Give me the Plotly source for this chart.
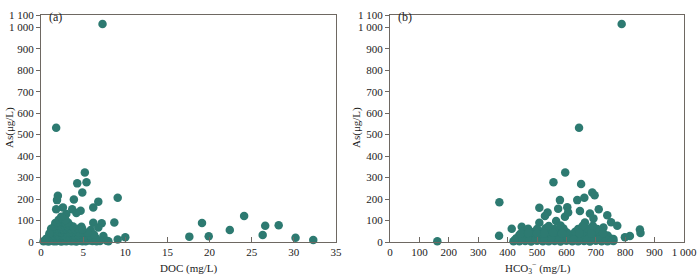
import plotly.graph_objects as go

# ---------------- Data ----------------
# Panel (a): DOC (mg/L) vs As (ug/L)
doc_a = [7.3, 1.8, 5.2, 5.4, 4.3, 4.9, 2.0, 1.9, 3.9, 9.1, 6.8, 6.2, 4.7, 4.2, 3.7, 2.6, 1.8,
         8.7, 7.2, 6.2, 6.8, 7.4, 10.0, 9.1, 7.0, 5.6, 5.9, 4.8, 3.0, 2.8,
         17.6, 19.1, 19.9, 22.4, 24.1, 26.6, 26.3, 28.2, 30.2, 32.3,
         0.3, 0.6, 0.9, 1.2, 1.5, 1.8, 2.1, 2.4, 2.7, 3.0, 3.3, 3.6, 3.9, 4.2, 4.5, 4.9, 5.3, 5.7, 6.1, 6.6,
         0.7, 1.0, 1.3, 1.6, 1.9, 2.2, 2.5, 2.8, 3.1, 3.4, 3.7, 4.0, 4.4, 4.8, 5.2, 6.0, 6.5,
         1.0, 1.3, 1.6, 1.9, 2.2, 2.5, 2.8, 3.1, 3.4, 3.7, 4.0, 4.4, 4.8, 5.3, 5.8, 6.3,
         1.3, 1.6, 1.9, 2.2, 2.5, 2.8, 3.1, 3.4, 3.7, 4.1, 4.5, 5.0, 5.5,
         1.5, 1.8, 2.1, 2.4, 2.7, 3.0, 3.3, 3.6, 4.0, 4.4, 4.9,
         1.6, 1.9, 2.2, 2.5, 2.8, 3.1, 3.4, 3.8,
         1.7, 2.0, 2.3, 2.6, 2.9, 3.2,
         2.1, 2.5, 2.9, 2.4, 1.2, 1.0, 0.6, 7.8, 8.0]
as_a = [1015, 532, 324, 278, 273, 231, 215, 195, 198, 206, 188, 161, 146, 135, 152, 161, 153,
        91, 87, 90, 68, 28, 22, 12, 5, 17, 56, 71, 130, 115,
        25, 88, 27, 56, 121, 76, 33, 78, 20, 9,
        3, 5, 2, 6, 4, 3, 7, 2, 5, 4, 6, 3, 5, 2, 6, 4, 3, 7, 5, 4,
        16, 20, 18, 22, 15, 19, 21, 17, 20, 18, 22, 16, 19, 21, 17, 20, 18,
        30, 34, 31, 35, 29, 33, 32, 36, 30, 34, 31, 33, 35, 30, 32, 34,
        45, 48, 44, 47, 46, 49, 43, 47, 45, 48, 44, 46, 43,
        58, 62, 60, 63, 59, 61, 64, 58, 60, 62, 59,
        74, 78, 76, 73, 77, 75, 79, 72,
        88, 92, 90, 93, 89, 91,
        104, 108, 102, 118, 62, 40, 14, 6, 3]

# Panel (b): HCO3- (mg/L) vs As (ug/L)
hco3_b = [788, 643, 596, 556, 650, 688, 696, 578, 637, 661, 372, 508, 603, 572, 646, 710, 739,
          680, 536, 527, 595, 606, 565, 508, 663, 752, 773, 692, 726, 850, 852, 816, 799, 760,
          371, 161, 414, 448, 465,
          420, 440, 460, 480, 500, 520, 540, 560, 580, 600, 620, 640, 660, 680, 700, 720, 740, 760,
          430, 455, 480, 505, 530, 555, 580, 605, 630, 655, 680, 705, 730, 750,
          440, 465, 490, 515, 540, 565, 590, 615, 640, 665, 690, 715, 740,
          455, 480, 510, 540, 570, 600, 630, 660, 690, 720,
          470, 500, 530, 560, 590, 640, 675, 705,
          540, 580, 655, 690,
          425, 450, 475, 495, 525, 550, 575, 610, 625, 650, 670, 695, 710, 735, 755,
          445, 470, 500, 525, 555, 585, 645, 685, 725]
as_b = [1015, 532, 324, 278, 270, 231, 218, 195, 195, 206, 185, 160, 162, 155, 144, 152, 125,
        133, 137, 121, 118, 137, 98, 90, 91, 92, 76, 110, 67, 58, 42, 28, 22, 14,
        29, 4, 62, 71, 56,
        4, 3, 5, 2, 6, 4, 3, 5, 2, 6, 4, 3, 5, 2, 6, 4, 3, 5,
        18, 20, 17, 19, 21, 18, 16, 20, 19, 17, 21, 18, 20, 16,
        33, 31, 35, 32, 34, 30, 33, 35, 31, 34, 32, 33, 30,
        48, 46, 50, 47, 49, 45, 48, 50, 46, 47,
        62, 60, 64, 61, 63, 60, 62, 61,
        75, 77, 74, 76,
        10, 12, 9, 11, 10, 13, 9, 11, 12, 10, 9, 12, 11, 10, 8,
        40, 42, 39, 41, 43, 40, 42, 39, 41]

y_ticks = [0, 100, 200, 300, 400, 500, 600, 700, 800, 900, 1000]
y_ticktext = ["0", "100", "200", "300", "400", "500", "600", "700", "800", "900", "1 000", "1 100"]
xa_ticks = [0, 5, 10, 15, 20, 25, 30, 35]
xb_ticks = [0, 100, 200, 300, 400, 500, 600, 700, 800, 900, 1000]
xb_ticktext = ["0", "100", "200", "300", "400", "500", "600", "700", "800", "900", "1 000"]

# ---------------- Styling ----------------
W, H = 700, 278
Y_TOP = 1057          # top of the y axis frame (labelled "1 100" in the original)
FONT = "Liberation Serif, Times New Roman, serif"
MARK = "#2d7a71"
LINE = "#6e6862"
TXT = "#222222"

def px_x(p):
    return p / W

def px_y(p):
    return 1 - p / H

fig = go.Figure()
fig.add_trace(go.Scatter(x=doc_a, y=as_a, mode="markers", xaxis="x", yaxis="y",
                         marker=dict(color=MARK, size=8.5, line=dict(width=0)),
                         cliponaxis=False, showlegend=False))
fig.add_trace(go.Scatter(x=hco3_b, y=as_b, mode="markers", xaxis="x2", yaxis="y2",
                         marker=dict(color=MARK, size=8.5, line=dict(width=0)),
                         cliponaxis=False, showlegend=False))

common_x = dict(showline=True, linecolor=LINE, linewidth=1, mirror=True, ticks="inside",
                ticklen=5, tickcolor=LINE, showgrid=False, zeroline=False, automargin=False,
                tickfont=dict(family=FONT, size=11, color=TXT))
common_y = dict(showline=True, linecolor=LINE, linewidth=1, mirror=True, ticks="outside",
                ticklen=4, tickcolor=LINE, showgrid=False, zeroline=False, automargin=False,
                tickfont=dict(family=FONT, size=11, color=TXT),
                tickvals=y_ticks + [Y_TOP], ticktext=y_ticktext, range=[0, Y_TOP])

yd = [px_y(242), px_y(15)]
fig.update_layout(
    template="none",
    width=W, height=H, autosize=False,
    margin=dict(l=0, r=0, t=0, b=0, pad=0, autoexpand=False),
    paper_bgcolor="white", plot_bgcolor="white",
    xaxis=dict(domain=[px_x(41), px_x(336)], range=[0, 35], tickvals=xa_ticks,
               anchor="y", **common_x),
    yaxis=dict(domain=yd, anchor="x", **common_y),
    xaxis2=dict(domain=[px_x(390), px_x(684)], range=[0, 1000], tickvals=xb_ticks,
                ticktext=xb_ticktext, anchor="y2", **common_x),
    yaxis2=dict(domain=yd, anchor="x2", **common_y),
    annotations=[
        dict(text="(a)", x=px_x(47), y=px_y(17), xref="paper", yref="paper",
             xanchor="left", yanchor="middle", showarrow=False,
             font=dict(family=FONT, size=12, color=TXT)),
        dict(text="(b)", x=px_x(396), y=px_y(17), xref="paper", yref="paper",
             xanchor="left", yanchor="middle", showarrow=False,
             font=dict(family=FONT, size=12, color=TXT)),
        dict(text="DOC (mg/L)", x=px_x(188), y=px_y(268), xref="paper", yref="paper",
             xanchor="center", yanchor="middle", showarrow=False,
             font=dict(family=FONT, size=11, color=TXT)),
        dict(text="HCO<sub>3</sub><sup>−</sup> (mg/L)", x=px_x(538), y=px_y(268),
             xref="paper", yref="paper", xanchor="center", yanchor="middle", showarrow=False,
             font=dict(family=FONT, size=11, color=TXT)),
        dict(text="As(μg/L)", x=px_x(9), y=px_y(128), xref="paper", yref="paper",
             xanchor="center", yanchor="middle", showarrow=False, textangle=-90,
             font=dict(family=FONT, size=11, color=TXT)),
        dict(text="As(μg/L)", x=px_x(356), y=px_y(128), xref="paper", yref="paper",
             xanchor="center", yanchor="middle", showarrow=False, textangle=-90,
             font=dict(family=FONT, size=11, color=TXT)),
    ],
)

fig.write_html("out.html",
               config={"displayModeBar": False},
               post_script="document.body.style.margin='0';document.body.style.overflow='hidden';")
